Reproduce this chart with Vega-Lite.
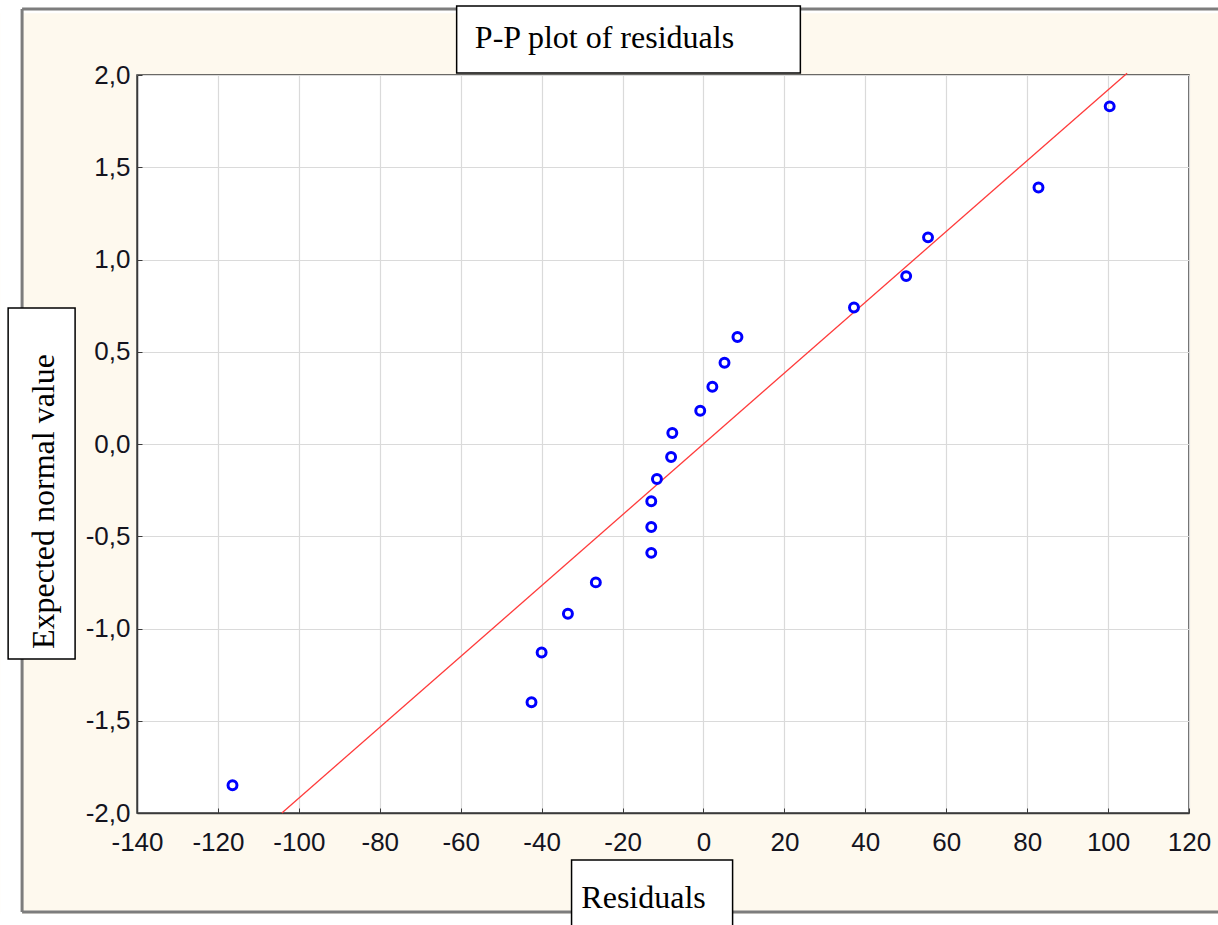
{
  "$schema": "https://vega.github.io/schema/vega-lite/v6.json",
  "width": 1052,
  "height": 738,
  "autosize": {"type": "none"},
  "padding": {"left": 137, "top": 75, "right": 29, "bottom": 112},
  "background": "#FEF9EE",
  "config": {
    "view": {"fill": "white", "stroke": "#3a3a3a", "strokeWidth": 1.5},
    "axis": {
      "labelFont": "Liberation Sans",
      "labelFontSize": 26,
      "labelColor": "#14141e",
      "gridColor": "#dadada",
      "gridWidth": 1.2,
      "domainColor": "#3a3a3a",
      "domainWidth": 1.5,
      "tickColor": "#3a3a3a",
      "tickSize": -5
    }
  },
  "datasets": {
    "residuals": [
      {"residual": -116.4, "expected": -1.85},
      {"residual": -42.5, "expected": -1.40},
      {"residual": -40.0, "expected": -1.13},
      {"residual": -33.5, "expected": -0.92},
      {"residual": -26.6, "expected": -0.75},
      {"residual": -12.9, "expected": -0.59},
      {"residual": -12.9, "expected": -0.45},
      {"residual": -12.9, "expected": -0.31},
      {"residual": -11.5, "expected": -0.19},
      {"residual": -8.0, "expected": -0.07},
      {"residual": -7.7, "expected": 0.06},
      {"residual": -0.8, "expected": 0.18},
      {"residual": 2.2, "expected": 0.31},
      {"residual": 5.2, "expected": 0.44},
      {"residual": 8.4, "expected": 0.58},
      {"residual": 37.2, "expected": 0.74},
      {"residual": 50.1, "expected": 0.91},
      {"residual": 55.5, "expected": 1.12},
      {"residual": 82.8, "expected": 1.39},
      {"residual": 100.4, "expected": 1.83}
    ],
    "fit": [
      {"residual": -104.2, "expected": -2.0},
      {"residual": 104.7, "expected": 2.01}
    ]
  },
  "layer": [
    {
      "data": {"name": "fit"},
      "mark": {"type": "line", "color": "#ff3b3b", "strokeWidth": 1.3, "clip": false},
      "encoding": {
        "x": {"field": "residual", "type": "quantitative"},
        "y": {"field": "expected", "type": "quantitative"}
      }
    },
    {
      "data": {"name": "residuals"},
      "mark": {"type": "point", "filled": false, "color": "#0000ff", "strokeWidth": 3, "size": 80, "opacity": 1},
      "encoding": {
        "x": {
          "field": "residual",
          "type": "quantitative",
          "scale": {"domain": [-140, 120], "nice": false, "zero": false},
          "axis": {
            "title": null,
            "values": [-140, -120, -100, -80, -60, -40, -20, 0, 20, 40, 60, 80, 100, 120],
            "labelExpr": "replace(format(datum.value, 'd'), '\u2212', '-')",
            "labelPadding": 21,
            "labelFlush": false,
            "labelOverlap": false
          }
        },
        "y": {
          "field": "expected",
          "type": "quantitative",
          "scale": {"domain": [-2, 2], "nice": false, "zero": false},
          "axis": {
            "title": null,
            "values": [-2, -1.5, -1, -0.5, 0, 0.5, 1, 1.5, 2],
            "labelExpr": "replace(replace(format(datum.value, '.1f'), '.', ','), '\u2212', '-')",
            "labelPadding": 12,
            "labelFlush": false,
            "labelOverlap": false
          }
        }
      }
    },
    {
      "data": {"values": [{}]},
      "mark": {"type": "rule", "stroke": "white", "strokeWidth": 18, "clip": false},
      "encoding": {
        "x": {"datum": -180, "type": "quantitative"},
        "x2": {"datum": 200},
        "y": {"datum": 2.383, "type": "quantitative"}
      }
    },
    {
      "data": {"values": [{}]},
      "mark": {"type": "rule", "stroke": "white", "strokeWidth": 22, "clip": false},
      "encoding": {
        "x": {"datum": -171.1, "type": "quantitative"},
        "y": {"datum": 2.5, "type": "quantitative"},
        "y2": {"datum": -2.7}
      }
    },
    {
      "data": {"values": [{}]},
      "mark": {"type": "rule", "stroke": "white", "strokeWidth": 20, "clip": false},
      "encoding": {
        "x": {"datum": -180, "type": "quantitative"},
        "x2": {"datum": 200},
        "y": {"datum": -2.6, "type": "quantitative"}
      }
    },
    {
      "data": {"values": [{}]},
      "mark": {"type": "rule", "stroke": "#7d7d7d", "strokeWidth": 3, "clip": false},
      "encoding": {
        "x": {"datum": -168.4, "type": "quantitative"},
        "x2": {"datum": 200},
        "y": {"datum": 2.358, "type": "quantitative"}
      }
    },
    {
      "data": {"values": [{}]},
      "mark": {"type": "rule", "stroke": "#7d7d7d", "strokeWidth": 3, "clip": false},
      "encoding": {
        "x": {"datum": -168.4, "type": "quantitative"},
        "y": {"datum": 2.358, "type": "quantitative"},
        "y2": {"datum": -2.537}
      }
    },
    {
      "data": {"values": [{}]},
      "mark": {"type": "rule", "stroke": "#7d7d7d", "strokeWidth": 3, "clip": false},
      "encoding": {
        "x": {"datum": -168.4, "type": "quantitative"},
        "x2": {"datum": 200},
        "y": {"datum": -2.537, "type": "quantitative"}
      }
    },
    {
      "data": {"values": [{}]},
      "mark": {"type": "rect", "fill": "white", "stroke": "black", "strokeWidth": 1.5, "clip": false},
      "encoding": {
        "x": {"datum": -61.0, "type": "quantitative"},
        "x2": {"datum": 23.95},
        "y": {"datum": 2.374, "type": "quantitative"},
        "y2": {"datum": 2.011}
      }
    },
    {
      "data": {"values": [{}]},
      "mark": {"type": "rect", "fill": "white", "stroke": "black", "strokeWidth": 1.5, "clip": false},
      "encoding": {
        "x": {"datum": -171.85, "type": "quantitative"},
        "x2": {"datum": -155.3},
        "y": {"datum": 0.737, "type": "quantitative"},
        "y2": {"datum": -1.165}
      }
    },
    {
      "data": {"values": [{}]},
      "mark": {"type": "rect", "fill": "white", "stroke": "black", "strokeWidth": 1.5, "clip": false},
      "encoding": {
        "x": {"datum": -32.6, "type": "quantitative"},
        "x2": {"datum": 7.2},
        "y": {"datum": -2.255, "type": "quantitative"},
        "y2": {"datum": -2.69}
      }
    },
    {
      "data": {"values": [{}]},
      "mark": {"type": "text", "text": "P-P plot of residuals", "font": "Liberation Serif", "fontSize": 32, "color": "black", "align": "left", "baseline": "alphabetic", "clip": false},
      "encoding": {
        "x": {"datum": -56.5, "type": "quantitative"},
        "y": {"datum": 2.148, "type": "quantitative"}
      }
    },
    {
      "data": {"values": [{}]},
      "mark": {"type": "text", "text": "Expected normal value", "font": "Liberation Serif", "fontSize": 32, "color": "black", "align": "center", "baseline": "alphabetic", "angle": 270, "clip": false},
      "encoding": {
        "x": {"datum": -160.5, "type": "quantitative"},
        "y": {"datum": -0.312, "type": "quantitative"}
      }
    },
    {
      "data": {"values": [{}]},
      "mark": {"type": "text", "text": "Residuals", "font": "Liberation Serif", "fontSize": 32, "color": "black", "align": "center", "baseline": "alphabetic", "clip": false},
      "encoding": {
        "x": {"datum": -14.8, "type": "quantitative"},
        "y": {"datum": -2.515, "type": "quantitative"}
      }
    }
  ]
}
